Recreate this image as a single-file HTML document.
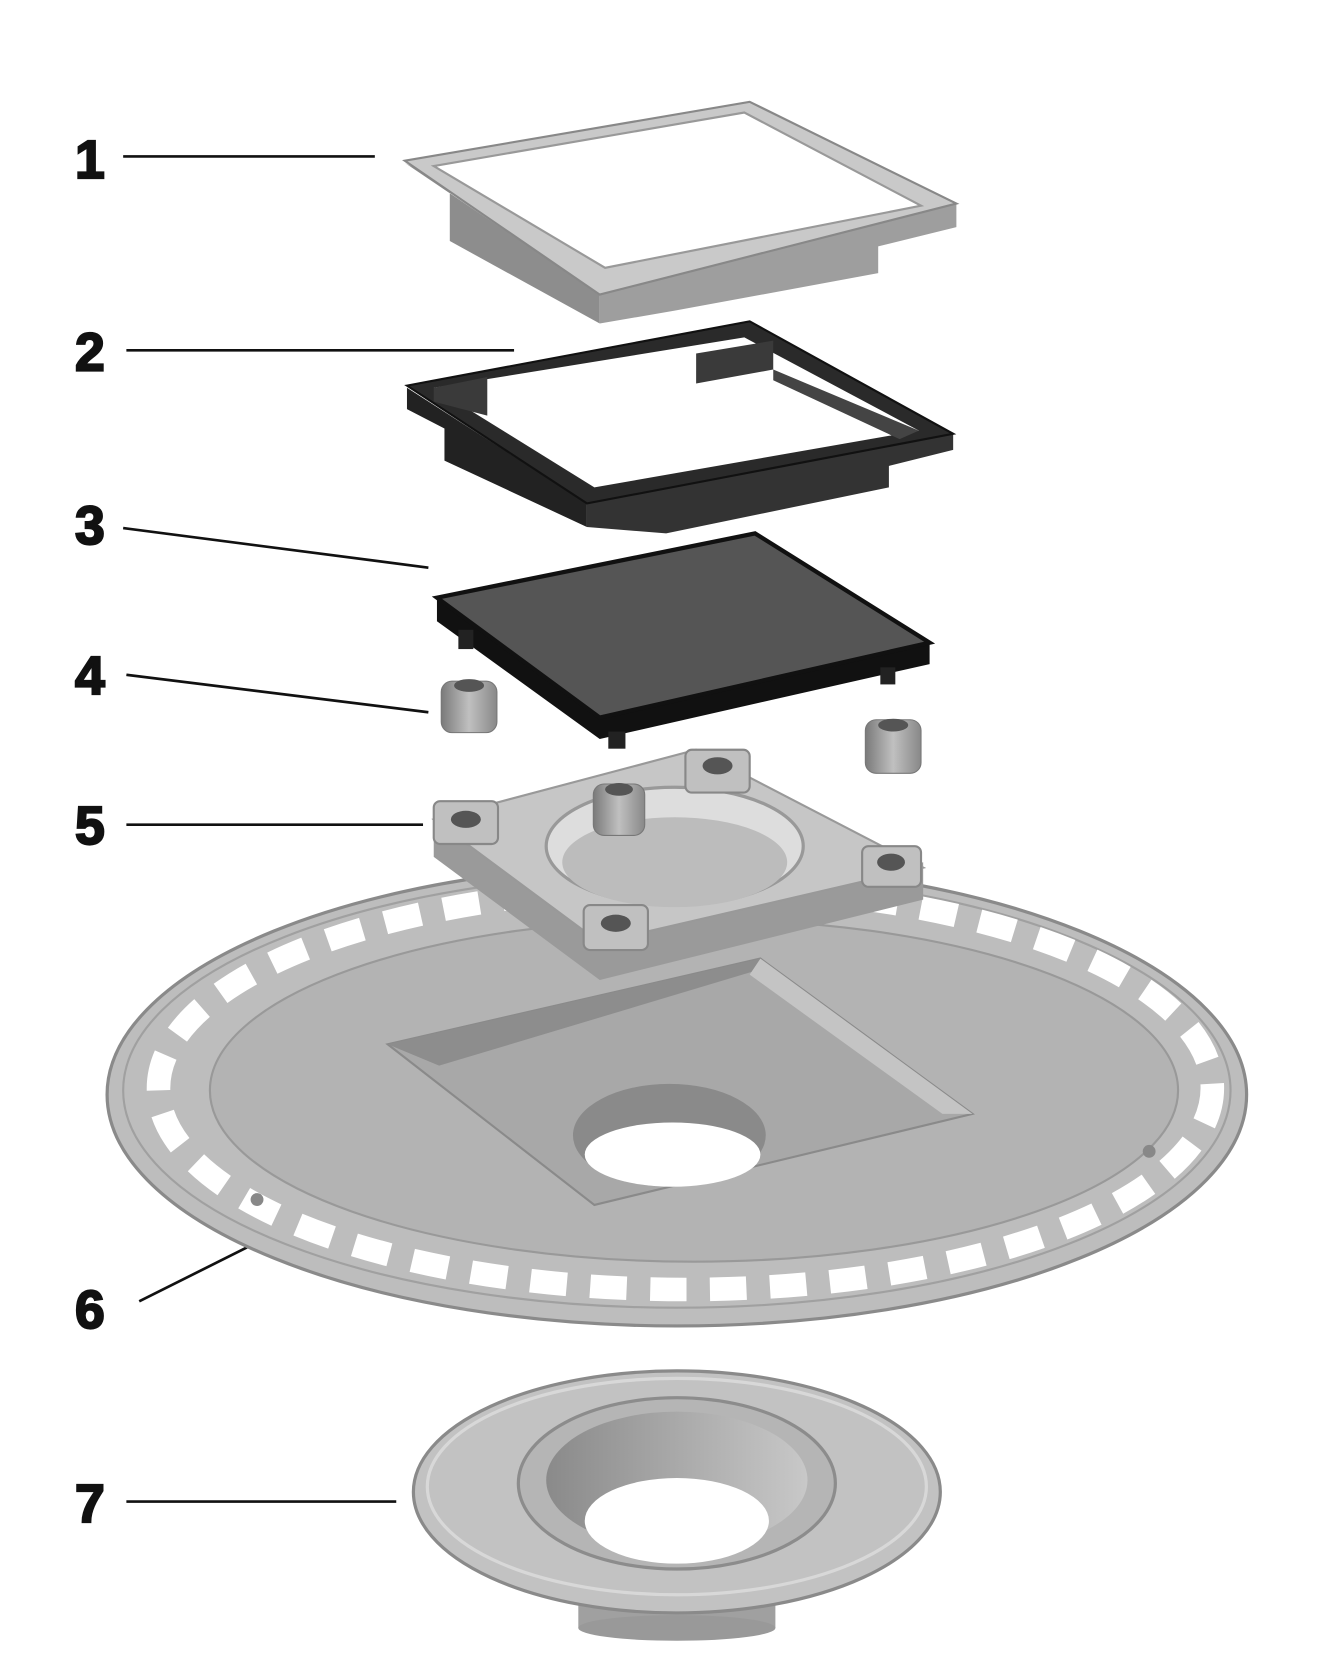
<!DOCTYPE html>
<html><head><meta charset="utf-8"><style>
html,body{margin:0;padding:0;background:#fff;}
svg{display:block;}
text{font-family:"Liberation Sans",sans-serif;font-weight:900;font-size:50px;fill:#111;stroke:#111;stroke-width:2;}
</style></head><body>
<svg width="1328" height="1658" viewBox="0 0 1240 1548" xmlns="http://www.w3.org/2000/svg">
<defs>
<linearGradient id="g1" x1="0" x2="1"><stop offset="0" stop-color="#8a8a8a"/><stop offset="1" stop-color="#c8c8c8"/></linearGradient>
<linearGradient id="g2" x1="0" x2="1"><stop offset="0" stop-color="#7a7a7a"/><stop offset=".5" stop-color="#c0c0c0"/><stop offset="1" stop-color="#888"/></linearGradient>
</defs>
<g stroke="#111" stroke-width="2.5">
<line x1="115" y1="146" x2="350" y2="146"/>
<line x1="118" y1="327" x2="480" y2="327"/>
<line x1="115" y1="493" x2="400" y2="530"/>
<line x1="118" y1="630" x2="400" y2="665"/>
<line x1="118" y1="770" x2="395" y2="770"/>
<line x1="130" y1="1215" x2="310" y2="1125"/>
<line x1="118" y1="1402" x2="370" y2="1402"/>
</g>
<text x="70" y="166">1</text><text x="70" y="346">2</text><text x="70" y="508">3</text>
<text x="70" y="648">4</text><text x="70" y="788">5</text><text x="70" y="1240">6</text><text x="70" y="1421">7</text>

<!-- part 1 -->
<polygon points="378,152 420,175 420,225 560,302 560,275" fill="#8d8d8d"/>
<polygon points="560,275 893,190 893,212 820,230 820,255 630,290 560,302" fill="#9e9e9e"/>
<polygon points="378,150 700,95 893,190 560,275" fill="#c9c9c9" stroke="#888" stroke-width="2"/>
<polygon points="405,155 695,105 860,192 565,250" fill="#fff" stroke="#999" stroke-width="2"/>

<!-- part 2 -->
<polygon points="380,362 380,382 415,400 415,430 548,492 548,470" fill="#222"/>
<polygon points="548,470 890,405 890,420 830,435 830,455 622,498 548,492" fill="#333"/>
<polygon points="380,360 700,300 890,405 548,470" fill="#2a2a2a" stroke="#111" stroke-width="2"/>
<polygon points="405,362 695,315 858,402 555,455" fill="#fff"/>
<polygon points="405,362 455,352 455,388 405,375" fill="#3a3a3a"/>
<polygon points="650,330 722,318 722,345 650,358" fill="#3a3a3a"/>
<polygon points="722,345 858,402 840,410 722,355" fill="#444"/>

<!-- part 3 -->
<polygon points="408,560 408,580 560,690 868,620 868,600 560,670" fill="#111"/>
<polygon points="408,558 705,498 868,600 560,670" fill="#555" stroke="#111" stroke-width="4"/>
<rect x="428" y="588" width="14" height="18" fill="#222"/>
<rect x="568" y="683" width="16" height="16" fill="#222"/>
<rect x="822" y="623" width="14" height="16" fill="#222"/>

<!-- part 6 disk -->
<g transform="translate(0,-10)">
<ellipse cx="632" cy="1032" rx="532" ry="216" fill="#bdbdbd" stroke="#8a8a8a" stroke-width="3"/>
<ellipse cx="632" cy="1028" rx="517" ry="203" fill="none" stroke="#a0a0a0" stroke-width="2"/>
<ellipse cx="640" cy="1026" rx="492" ry="188" fill="none" stroke="#fff" stroke-width="22" stroke-dasharray="34 22"/>
<ellipse cx="648" cy="1028" rx="452" ry="160" fill="#b3b3b3" stroke="#999" stroke-width="2"/>
<circle cx="240" cy="1130" r="6" fill="#888"/><circle cx="1073" cy="1085" r="6" fill="#888"/>
</g>
<polygon points="362,975 710,895 908,1040 555,1125" fill="#a8a8a8" stroke="#8a8a8a" stroke-width="2"/>
<polygon points="362,975 710,895 710,905 410,995" fill="#8d8d8d"/>
<polygon points="710,895 908,1040 880,1040 700,910" fill="#c4c4c4"/>
<ellipse cx="625" cy="1060" rx="90" ry="48" fill="#8a8a8a"/>
<ellipse cx="628" cy="1078" rx="82" ry="30" fill="#fff"/>

<!-- part 5 -->
<polygon points="405,765 405,800 560,915 862,840 862,805 560,880" fill="#9a9a9a"/>
<polygon points="405,765 650,700 862,810 560,880" fill="#c6c6c6" stroke="#999" stroke-width="2"/>
<ellipse cx="630" cy="790" rx="120" ry="55" fill="#ddd" stroke="#999" stroke-width="3"/>
<ellipse cx="630" cy="805" rx="105" ry="42" fill="#bcbcbc"/>
<g fill="#c0c0c0" stroke="#888" stroke-width="2">
<rect x="405" y="748" width="60" height="40" rx="6"/>
<rect x="640" y="700" width="60" height="40" rx="6"/>
<rect x="805" y="790" width="55" height="38" rx="6"/>
<rect x="545" y="845" width="60" height="42" rx="6"/>
</g>
<g fill="#555"><ellipse cx="435" cy="765" rx="14" ry="8"/><ellipse cx="670" cy="715" rx="14" ry="8"/><ellipse cx="832" cy="805" rx="13" ry="8"/><ellipse cx="575" cy="862" rx="14" ry="8"/></g>

<!-- inserts -->
<g fill="url(#g2)" stroke="#777" stroke-width="1">
<rect x="412" y="636" width="52" height="48" rx="10"/>
<rect x="808" y="672" width="52" height="50" rx="10"/>
<rect x="554" y="732" width="48" height="48" rx="10"/>
</g>
<g fill="#555"><ellipse cx="438" cy="640" rx="14" ry="6"/><ellipse cx="834" cy="677" rx="14" ry="6"/><ellipse cx="578" cy="737" rx="13" ry="6"/></g>

<!-- part 7 -->
<rect x="540" y="1470" width="184" height="50" fill="#a0a0a0"/>
<ellipse cx="632" cy="1520" rx="92" ry="12" fill="#999"/>
<ellipse cx="632" cy="1393" rx="246" ry="113" fill="#c2c2c2" stroke="#8a8a8a" stroke-width="3"/>
<ellipse cx="632" cy="1388" rx="233" ry="101" fill="none" stroke="#d8d8d8" stroke-width="3"/>
<ellipse cx="632" cy="1385" rx="148" ry="80" fill="#b5b5b5" stroke="#8c8c8c" stroke-width="3"/>
<ellipse cx="632" cy="1382" rx="122" ry="64" fill="url(#g1)"/>
<ellipse cx="632" cy="1420" rx="86" ry="40" fill="#fff"/>
</svg>
</body></html>
